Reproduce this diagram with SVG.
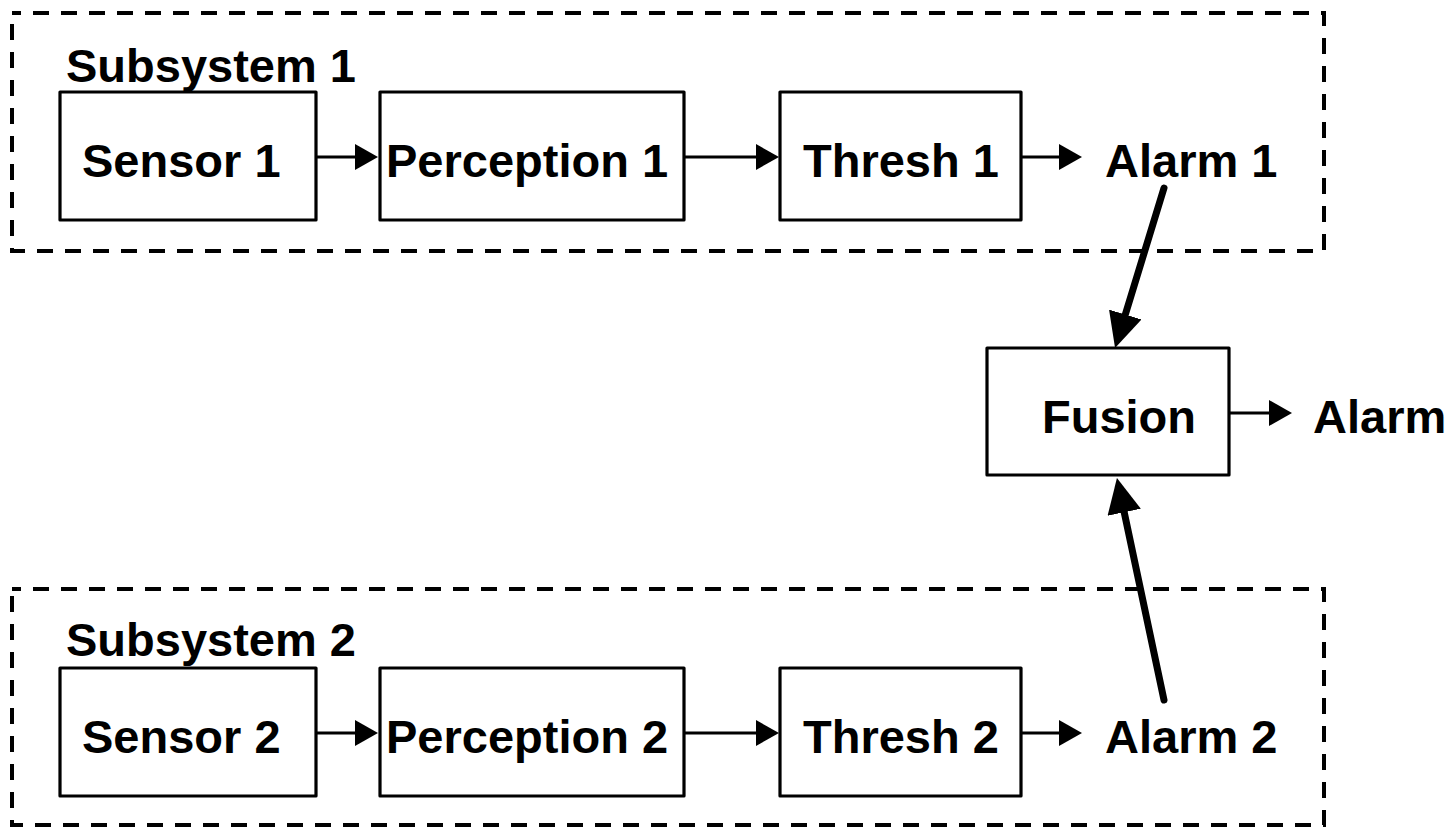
<svg xmlns="http://www.w3.org/2000/svg" width="1453" height="827" viewBox="0 0 1453 827">
<style>
.grp{fill:none;stroke:#000;stroke-width:4;stroke-dasharray:16 12;stroke-dashoffset:7}
.box{fill:#fff;stroke:#000;stroke-width:3.2;stroke-linejoin:round}
.t{font-family:"Liberation Sans",Arial,sans-serif;font-weight:bold;font-size:47px;fill:#000}
.thin{stroke:#000;stroke-width:3;fill:none;marker-end:url(#ah)}
.thick{stroke:#000;stroke-width:7;fill:none;stroke-linecap:round;marker-end:url(#ahb)}
</style>
<defs>
<marker id="ah" markerUnits="userSpaceOnUse" viewBox="0 0 23 26" markerWidth="23" markerHeight="26" refX="10" refY="13" orient="auto"><path d="M0,0 L23,13 L0,26 z" fill="#000"/></marker>
<marker id="ahb" markerUnits="userSpaceOnUse" viewBox="0 0 35 34" markerWidth="35" markerHeight="34" refX="15" refY="17" orient="auto"><path d="M0,0 L35,17 L0,34 z" fill="#000"/></marker>
</defs>
<rect width="1453" height="827" fill="#fff"/>
<g id="subsystem1"><rect class="grp" x="12" y="13" width="1312" height="238"/><text class="t" x="66" y="82">Subsystem 1</text></g>
<g id="subsystem2"><rect class="grp" x="12" y="589" width="1312" height="236"/><text class="t" x="66" y="656">Subsystem 2</text></g>
<g id="sensor1"><rect class="box" x="60" y="92" width="256" height="128"/><text class="t" x="82" y="177">Sensor 1</text></g>
<g id="perception1"><rect class="box" x="380" y="92" width="304" height="128"/><text class="t" x="386" y="177">Perception 1</text></g>
<g id="thresh1"><rect class="box" x="780" y="92" width="241" height="128"/><text class="t" x="803" y="177">Thresh 1</text></g>
<g id="alarm1"><text class="t" x="1105" y="177">Alarm 1</text></g>
<g id="sensor2"><rect class="box" x="60" y="668" width="256" height="128"/><text class="t" x="82" y="753">Sensor 2</text></g>
<g id="perception2"><rect class="box" x="380" y="668" width="304" height="128"/><text class="t" x="386" y="753">Perception 2</text></g>
<g id="thresh2"><rect class="box" x="780" y="668" width="241" height="128"/><text class="t" x="803" y="753">Thresh 2</text></g>
<g id="alarm2"><text class="t" x="1105" y="753">Alarm 2</text></g>
<g id="fusion"><rect class="box" x="987" y="348" width="242" height="127"/><text class="t" x="1042" y="433">Fusion</text></g>
<g id="alarm"><text class="t" x="1313" y="433">Alarm</text></g>
<g id="connectors">
<line class="thin" x1="316" y1="157" x2="365" y2="157"/>
<line class="thin" x1="684" y1="157" x2="766" y2="157"/>
<line class="thin" x1="1021" y1="157" x2="1069" y2="157"/>
<line class="thin" x1="316" y1="733" x2="365" y2="733"/>
<line class="thin" x1="684" y1="733" x2="766" y2="733"/>
<line class="thin" x1="1021" y1="733" x2="1069" y2="733"/>
<line class="thin" x1="1229" y1="413" x2="1279" y2="413"/>
<line class="thick" x1="1164" y1="188" x2="1120.9" y2="328.9"/>
<line class="thick" x1="1164" y1="700" x2="1121.1" y2="497.6"/>
</g>
</svg>
